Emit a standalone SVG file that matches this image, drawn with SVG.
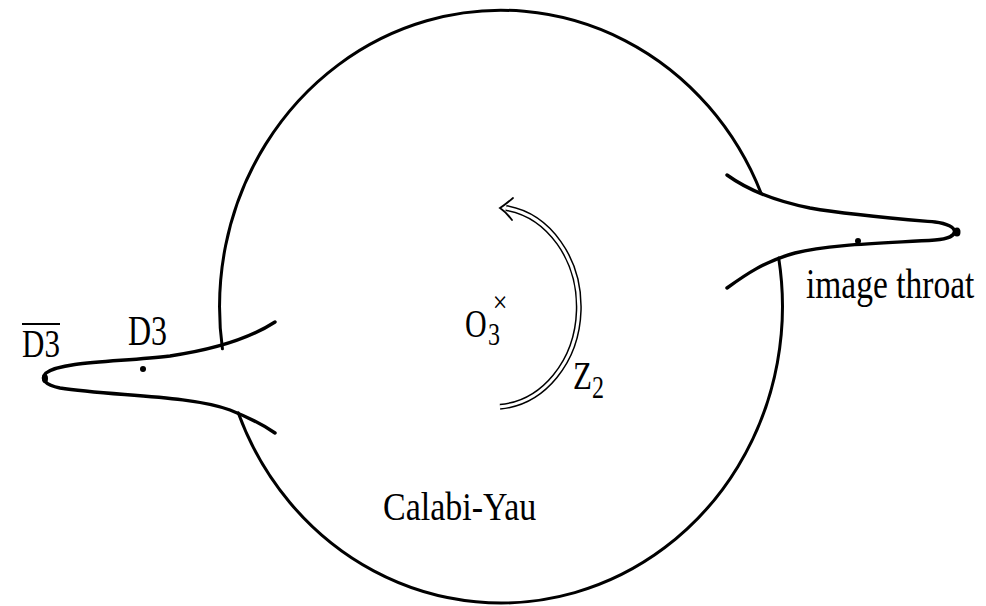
<svg xmlns="http://www.w3.org/2000/svg" width="986" height="606" viewBox="0 0 986 606">
<style>
.ln{fill:none;stroke:#000;stroke-width:3;stroke-linecap:round;stroke-linejoin:round}
.th{fill:none;stroke:#000;stroke-width:3.4;stroke-linecap:round}
.t{font-family:"Liberation Serif","Times New Roman",serif;fill:#000}
</style>
<rect width="986" height="606" fill="#fff"/>
<g id="calabi-yau">
<path class="ln" d="M761.2,193.5 A281.5,296.5 0 0 0 222.4,348.8"/>
<path class="ln" d="M238.2,412.8 A281.5,296.5 0 0 0 778.7,258.1"/>
<text class="t" font-size="34" transform="translate(383,520) scale(1,1.2)">Calabi-Yau</text>
</g>
<g id="left-throat">
<path class="th" d="M275,322 C252,337 218,349 170,356 C120,362 62,361 46,373 C40,379 45,385 60,388 C110,396 190,395 230,410 C250,418 265,426 275,433"/>
<ellipse cx="45" cy="378.5" rx="3" ry="4.5" fill="#000"/>
<circle cx="143" cy="369" r="3" fill="#000"/>
<text class="t" font-size="32" transform="translate(128,345) scale(1,1.3)">D3</text>
<text class="t" font-size="31" transform="translate(22,357) scale(1,1.3)">D3</text>
<line x1="22" y1="324" x2="60" y2="324" stroke="#000" stroke-width="2"/>
</g>
<g id="image-throat">
<path class="th" d="M727,175 C745,188 770,200 810,208 C850,215 900,219 935,222 C960,225 962,238 935,240 C890,243 830,244 795,253 C765,261 745,275 727,288"/>
<ellipse cx="957" cy="232" rx="3.5" ry="4.5" fill="#000"/>
<circle cx="858" cy="241" r="3" fill="#000"/>
<text class="t" font-size="33.5" transform="translate(806,298) scale(1,1.25)">image throat</text>
</g>
<g id="orientifold">
<text class="t" font-size="30" transform="translate(465,337) scale(1,1.3)">O</text>
<text class="t" font-size="24" transform="translate(488,345) scale(1,1.3)">3</text>
<text class="t" font-size="26" text-anchor="middle" transform="translate(500,312) scale(1,1.1)">×</text>
</g>
<g id="connectors">
<path d="M506,208 A85,100 0 0 1 500,406.7" fill="none" stroke="#000" stroke-width="6"/>
<path d="M506,208 A85,100 0 0 1 500,406.7" fill="none" stroke="#fff" stroke-width="3"/>
<path d="M513,198 Q506,204 500,208 Q506,212 512,220" fill="none" stroke="#000" stroke-width="1.8" stroke-linecap="round"/>
<text class="t" font-size="31" transform="translate(573,389) scale(1,1.3)">Z</text>
<text class="t" font-size="24" transform="translate(592,398) scale(1,1.3)">2</text>
</g>
</svg>
